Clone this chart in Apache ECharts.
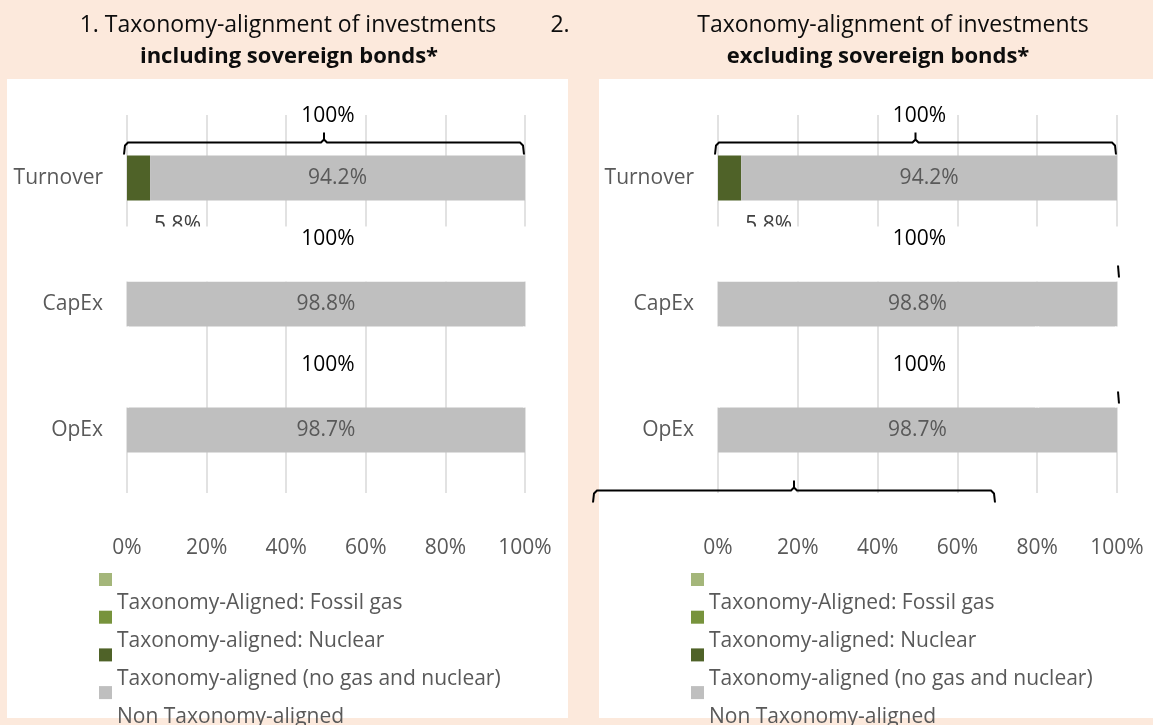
<!DOCTYPE html>
<html>
<head>
<meta charset="utf-8">
<script src="https://cdn.jsdelivr.net/npm/echarts@6/dist/echarts.min.js"></script>
<style>
  html, body { margin: 0; padding: 0; background: #FCE9DC; }
  #main { width: 1153px; height: 725px; }
</style>
</head>
<body>
<div id="main"></div>
<script>
const categories = ['Turnover', 'CapEx', 'OpEx'];
const seriesNames = [
  'Taxonomy-Aligned: Fossil gas',
  'Taxonomy-aligned: Nuclear',
  'Taxonomy-aligned (no gas and nuclear)',
  'Non Taxonomy-aligned'
];
const seriesColors = ['#A4B67A', '#77933C', '#4F6228', '#BFBFBF'];
const fossilGas = [0, 0, 0];
const nuclear = [0, 0, 0];
const alignedNoGasNuclear = [5.8, 0, 0];
const nonAligned = [94.2, 100, 100];
const nonAlignedLabels = ['94.2%', '98.8%', '98.7%'];
const xTicks = [0, 20, 40, 60, 80, 100];

const FONT = 'Open Sans';
const GREY_TEXT = '#595959';
const FS = 21;
const seriesData = [fossilGas, nuclear, alignedNoGasNuclear, nonAligned];

const chart = echarts.init(document.getElementById('main'), null, { renderer: 'canvas' });

// two panels, same data
const grids = [
  { left: 127, right: 1153 - 525, top: 115, height: 378 },
  { left: 718, right: 1153 - 1117, top: 115, height: 378 }
];

function xAxisFor(i) {
  return {
    gridIndex: i,
    type: 'value',
    min: xTicks[0],
    max: xTicks[xTicks.length - 1],
    interval: xTicks[1] - xTicks[0],
    axisLine: { show: false },
    axisTick: { show: false },
    splitLine: { lineStyle: { color: '#D9D9D9', width: 1.5 } },
    axisLabel: {
      formatter: '{value}%',
      margin: 45,
      color: GREY_TEXT,
      fontFamily: FONT,
      fontSize: FS
    }
  };
}

function yAxisFor(i) {
  return {
    gridIndex: i,
    type: 'category',
    inverse: true,
    data: categories,
    axisLine: { show: false },
    axisTick: { show: false },
    axisLabel: { margin: 24, color: GREY_TEXT, fontFamily: FONT, fontSize: FS }
  };
}

function seriesFor(i) {
  return seriesNames.map((name, k) => {
    const s = {
      name: name,
      type: 'bar',
      stack: 'panel' + i,
      xAxisIndex: i,
      yAxisIndex: i,
      barWidth: 45,
      itemStyle: { color: seriesColors[k] },
      data: seriesData[k],
      label: { show: false }
    };
    if (k === 2) {
      s.label = {
        show: true,
        position: 'bottom',
        distance: 14,
        offset: [39, 0],
        color: '#404040',
        fontFamily: FONT,
        fontSize: FS,
        formatter: p => (p.value > 0 ? p.value.toFixed(1) + '%' : '')
      };
    }
    if (k === 3) {
      s.label = {
        show: true,
        position: 'inside',
        color: GREY_TEXT,
        fontFamily: FONT,
        fontSize: FS,
        formatter: p => nonAlignedLabels[p.dataIndex]
      };
    }
    return s;
  });
}

// legend text sits half a row below its marker, as in the source
function legendFor(left) {
  return {
    orient: 'vertical',
    left: left,
    top: 573 - 41.5,
    height: 400,
    padding: 0,
    icon: 'rect',
    itemWidth: 13,
    itemHeight: 13,
    itemGap: -58.3,
    selectedMode: false,
    data: seriesNames,
    formatter: name => '\n' + name,
    textStyle: {
      color: GREY_TEXT,
      fontFamily: FONT,
      fontSize: FS,
      lineHeight: 48
    }
  };
}

chart.setOption({
  animation: false,
  backgroundColor: '#FCE9DC',
  grid: grids,
  xAxis: [xAxisFor(0), xAxisFor(1)],
  yAxis: [yAxisFor(0), yAxisFor(1)],
  legend: [legendFor(99), legendFor(691)],
  series: seriesFor(0).concat(seriesFor(1))
});

// decorations placed from the axes' own scales
const BAR_HALF = 22.5;
const totals = categories.map((c, j) => seriesData.reduce((a, arr) => a + arr[j], 0));

function px(gi, v) { return chart.convertToPixel({ xAxisIndex: gi }, v); }
function py(gi, cat) { return chart.convertToPixel({ yAxisIndex: gi }, cat); }

function brace(x0, x1, yb, z) {
  const xm = (x0 + x1) / 2;
  return {
    type: 'polyline',
    z: z,
    shape: {
      points: [
        [x0, yb + 12], [x0 + 1, yb + 3], [x0 + 4, yb], [xm - 3, yb], [xm, yb - 3], [xm, yb - 10],
        [xm, yb - 3], [xm + 3, yb], [x1 - 4, yb], [x1 - 1, yb + 3], [x1, yb + 12]
      ]
    },
    style: { stroke: '#000', lineWidth: 2, fill: null }
  };
}

const graphics = [];
// white panels
graphics.push({ type: 'rect', z: -10, shape: { x: 7, y: 79, width: 561, height: 639 }, style: { fill: '#fff' } });
graphics.push({ type: 'rect', z: -10, shape: { x: 599, y: 79, width: 554, height: 639 }, style: { fill: '#fff' } });

// titles
const titleStyle = { fontFamily: FONT, fontSize: 23, fill: '#0d0d0d', align: 'center', verticalAlign: 'middle' };
graphics.push({ type: 'text', x: 288, y: 25, style: Object.assign({ text: '1. Taxonomy-alignment of investments' }, titleStyle) });
graphics.push({ type: 'text', x: 289, y: 57, style: Object.assign({}, titleStyle, { text: 'including sovereign bonds*', fontWeight: 'bold', fontSize: 22 }) });
graphics.push({ type: 'text', x: 560, y: 25, style: Object.assign({ text: '2.' }, titleStyle) });
graphics.push({ type: 'text', x: 893, y: 25, style: Object.assign({ text: 'Taxonomy-alignment of investments' }, titleStyle) });
graphics.push({ type: 'text', x: 878, y: 57, style: Object.assign({}, titleStyle, { text: 'excluding sovereign bonds*', fontWeight: 'bold', fontSize: 22 }) });

[0, 1].forEach(gi => {
  const x0 = px(gi, 0), x100 = px(gi, 100), xMid = px(gi, 50);
  const panelX = gi === 0 ? 7 : 599;
  const panelW = gi === 0 ? 561 : 554;
  const top1 = py(gi, categories[1]) - BAR_HALF;
  const bot0 = py(gi, categories[0]) + BAR_HALF;
  const gapTop = bot0 + 26;
  // overlapping white box that hides the gridlines above the second bar
  graphics.push({ type: 'rect', z: 5, shape: { x: panelX, y: gapTop, width: panelW, height: top1 - gapTop }, style: { fill: '#fff' } });
  // gridlines hidden between second and third bar
  const bot1 = py(gi, categories[1]) + BAR_HALF;
  const top2 = py(gi, categories[2]) - BAR_HALF;
  const hidden = gi === 0 ? [0, 100] : [0, 80, 100];
  hidden.forEach(v => {
    graphics.push({ type: 'rect', z: 5, shape: { x: px(gi, v) - 2, y: bot1, width: 4, height: top2 - bot1 }, style: { fill: '#fff' } });
  });
  // total labels
  categories.forEach((c, j) => {
    const barTop = py(gi, c) - BAR_HALF;
    graphics.push({
      type: 'text', z: 10, x: xMid + 2, y: barTop - (j === 0 ? 39 : 42),
      style: { text: totals[j] + '%', fontFamily: FONT, fontSize: FS, fill: '#000', align: 'center', verticalAlign: 'middle' }
    });
  });
  // brace over the first bar
  const firstTop = py(gi, categories[0]) - BAR_HALF;
  graphics.push(brace(x0 - 3, x100 - 1, firstTop - 13, 10));
  if (gi === 1) {
    // stray brace ends and the misplaced brace of the second panel
    [1, 2].forEach(j => {
      const bt = py(gi, categories[j]) - BAR_HALF;
      graphics.push({ type: 'line', z: 10, shape: { x1: x100 + 1, y1: bt - 16, x2: x100 + 2, y2: bt - 4 }, style: { stroke: '#000', lineWidth: 2 } });
    });
    const bot2 = py(gi, categories[2]) + BAR_HALF;
    graphics.push(brace(x0 - 125, x0 - 125 + 402, bot2 + 38, 10));
  }
});

chart.setOption({ graphic: graphics });
</script>
</body>
</html>
